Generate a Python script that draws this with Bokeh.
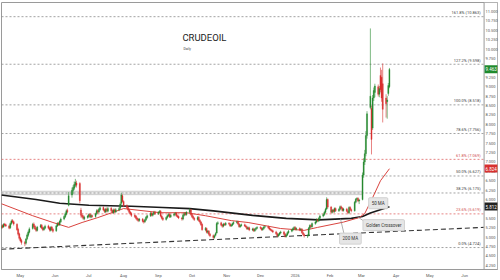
import pandas as pd
import numpy as np
from bokeh.plotting import figure
from bokeh.models import (Range1d, FixedTicker, Span, Label, NumeralTickFormatter,
                          ColumnDataSource, BoxAnnotation)
from bokeh.embed import file_html
from bokeh.resources import INLINE

# ---------------- data ----------------
opens = [
    5.24, 5.31, 5.27, 5.35, 5.33,  5.30, 5.25, 5.36, 5.44, 5.41,  5.34, 5.21, 5.09, 4.98, 4.91,
    4.86, 4.84, 4.96, 5.05, 5.13,  5.23, 5.35, 5.29, 5.23, 5.18,  5.27, 5.32, 5.25, 5.20, 5.24,
    5.30, 5.25, 5.18, 5.27, 5.21,  5.17, 5.30, 5.37, 5.33, 5.41,  5.48, 5.54, 5.61, 5.71, 5.85,
    6.12, 6.24, 6.30, 6.38, 6.44,  6.43, 5.72, 5.59, 5.55, 5.49,  5.52, 5.55, 5.61, 5.53, 5.57,
    5.55, 5.62, 5.71, 5.67, 5.73,  5.79, 5.73, 5.67, 5.75, 5.69,  5.77, 5.71, 5.65, 5.73, 5.67,
    5.72, 5.77, 5.90, 6.10, 5.95,  5.84, 5.79, 5.73, 5.67, 5.63,  5.58, 5.56, 5.51, 5.48, 5.44,
    5.48, 5.43, 5.41, 5.46, 5.52,  5.57, 5.64, 5.58, 5.62, 5.67,  5.62, 5.66, 5.69, 5.56, 5.51,
    5.47, 5.52, 5.57, 5.61, 5.54,  5.58, 5.61, 5.64, 5.57, 5.55,  5.51, 5.48, 5.58, 5.64, 5.60,
    5.66, 5.73, 5.61, 5.55, 5.50,  5.47, 5.53, 5.45, 5.40, 5.34,  5.20, 5.23, 5.13, 5.16, 5.08,
    5.04, 4.99, 5.05, 5.11, 5.36,  5.38, 5.32, 5.29, 5.35, 5.33,  5.37, 5.35, 5.30, 5.32, 5.36,
    5.39, 5.41, 5.35, 5.28, 5.31,  5.33, 5.30, 5.27, 5.22, 5.25,  5.19, 5.22, 5.17, 5.21, 5.24,
    5.26, 5.24, 5.20, 5.23, 5.27,  5.28, 5.25, 5.21, 5.19, 5.17,  5.14, 5.09, 5.03, 5.07, 5.11,
    5.14, 5.08, 5.02, 5.06, 5.12,  5.16, 5.19, 5.23, 5.26, 5.21,  5.23, 5.19, 5.21, 5.12, 5.07,
    5.03, 5.05, 5.24, 5.31, 5.28,  5.36, 5.40, 5.46, 5.43, 5.50,  5.56, 5.60, 5.66, 5.75, 6.00,
    5.80, 5.66, 5.72, 5.68, 5.76,  5.70, 5.74, 5.81, 5.77, 5.71,  5.75, 5.69, 5.65, 5.79, 5.73,
    5.70, 5.93, 6.01, 6.03, 5.96,
    6.00, 6.65, 7.00, 7.22, 7.70, 8.45, 8.42, 7.90, 8.70, 8.85, 9.00, 8.80, 9.30, 9.25, 9.08,
    8.70, 8.60, 8.82, 9.00]
closes = [
    5.30, 5.26, 5.34, 5.32, 5.30,  5.24, 5.36, 5.43, 5.40, 5.35,  5.20, 5.08, 4.97, 4.90, 4.86,
    4.83, 4.95, 5.06, 5.14, 5.22,  5.34, 5.28, 5.22, 5.18, 5.27,  5.31, 5.24, 5.20, 5.25, 5.29,
    5.24, 5.19, 5.26, 5.20, 5.16,  5.30, 5.36, 5.33, 5.42, 5.48,  5.55, 5.62, 5.70, 5.68, 6.10,
    6.25, 6.32, 6.40, 6.46, 6.38,  5.97, 5.58, 5.54, 5.50, 5.53,  5.56, 5.60, 5.54, 5.58, 5.55,
    5.62, 5.70, 5.66, 5.74, 5.78,  5.72, 5.68, 5.74, 5.70, 5.76,  5.70, 5.66, 5.72, 5.68, 5.73,
    5.76, 5.88, 6.12, 5.95, 5.84,  5.78, 5.72, 5.66, 5.62, 5.58,  5.55, 5.50, 5.47, 5.44, 5.48,
    5.42, 5.40, 5.46, 5.53, 5.57,  5.63, 5.58, 5.62, 5.66, 5.62,  5.66, 5.68, 5.56, 5.50, 5.47,
    5.52, 5.57, 5.60, 5.54, 5.58,  5.61, 5.63, 5.57, 5.54, 5.51,  5.48, 5.58, 5.63, 5.60, 5.66,
    5.73, 5.60, 5.54, 5.50, 5.47,  5.52, 5.44, 5.40, 5.33, 5.20,  5.23, 5.13, 5.16, 5.08, 5.04,
    4.99, 5.04, 5.10, 5.36, 5.38,  5.32, 5.29, 5.35, 5.33, 5.37,  5.35, 5.30, 5.32, 5.36, 5.39,
    5.41, 5.35, 5.28, 5.31, 5.33,  5.30, 5.27, 5.22, 5.25, 5.19,  5.22, 5.17, 5.21, 5.24, 5.26,
    5.24, 5.20, 5.23, 5.27, 5.28,  5.25, 5.21, 5.19, 5.17, 5.14,  5.09, 5.03, 5.07, 5.11, 5.14,
    5.08, 5.02, 5.06, 5.12, 5.16,  5.19, 5.23, 5.26, 5.21, 5.23,  5.19, 5.21, 5.12, 5.07, 5.03,
    5.04, 5.24, 5.31, 5.28, 5.36,  5.40, 5.46, 5.43, 5.50, 5.56,  5.60, 5.66, 5.74, 6.00, 5.80,
    5.66, 5.72, 5.68, 5.76, 5.70,  5.74, 5.81, 5.77, 5.71, 5.75,  5.69, 5.65, 5.79, 5.73, 5.70,
    5.93, 6.01, 6.03, 5.96, 5.99,
    6.65, 7.00, 7.22, 7.70, 8.28, 8.75, 7.60, 8.70, 8.90, 9.02, 8.80, 8.95, 8.92, 8.70, 8.40,
    8.55, 8.65, 9.03, 9.46]
highs = [
    5.33, 5.34, 5.37, 5.38, 5.36,  5.33, 5.39, 5.47, 5.48, 5.44,  5.37, 5.25, 5.12, 5.01, 4.95,
    4.90, 4.98, 5.10, 5.18, 5.26,  5.38, 5.39, 5.32, 5.26, 5.30,  5.35, 5.35, 5.28, 5.28, 5.33,
    5.33, 5.28, 5.29, 5.30, 5.24,  5.33, 5.40, 5.40, 5.45, 5.52,  5.58, 5.66, 5.74, 5.76, 6.20,
    6.32, 6.38, 6.48, 6.55, 6.50,  6.46, 5.78, 5.63, 5.59, 5.57,  5.59, 5.63, 5.64, 5.61, 5.60,
    5.65, 5.74, 5.74, 5.78, 5.82,  5.82, 5.76, 5.78, 5.79, 5.80,  5.80, 5.74, 5.76, 5.76, 5.77,
    5.80, 5.92, 6.18, 6.14, 5.98,  5.87, 5.82, 5.76, 5.70, 5.66,  5.61, 5.59, 5.54, 5.51, 5.51,
    5.51, 5.46, 5.49, 5.56, 5.60,  5.67, 5.67, 5.65, 5.70, 5.70,  5.69, 5.72, 5.72, 5.59, 5.54,
    5.55, 5.60, 5.64, 5.64, 5.61,  5.64, 5.67, 5.67, 5.60, 5.58,  5.54, 5.61, 5.66, 5.67, 5.69,
    5.77, 5.75, 5.64, 5.58, 5.53,  5.56, 5.56, 5.48, 5.43, 5.37,  5.27, 5.26, 5.19, 5.19, 5.11,
    5.07, 5.07, 5.13, 5.40, 5.42,  5.41, 5.35, 5.38, 5.38, 5.40,  5.40, 5.38, 5.35, 5.39, 5.42,
    5.44, 5.44, 5.38, 5.34, 5.36,  5.36, 5.33, 5.30, 5.28, 5.28,  5.25, 5.25, 5.24, 5.27, 5.29,
    5.29, 5.27, 5.26, 5.30, 5.31,  5.31, 5.28, 5.24, 5.22, 5.20,  5.17, 5.12, 5.10, 5.14, 5.17,
    5.17, 5.11, 5.09, 5.15, 5.19,  5.22, 5.26, 5.29, 5.29, 5.26,  5.26, 5.24, 5.24, 5.15, 5.10,
    5.07, 5.27, 5.34, 5.34, 5.39,  5.43, 5.50, 5.49, 5.53, 5.60,  5.63, 5.70, 5.78, 6.06, 6.03,
    5.83, 5.75, 5.75, 5.79, 5.79,  5.77, 5.84, 5.84, 5.80, 5.78,  5.78, 5.72, 5.82, 5.82, 5.76,
    5.96, 6.04, 6.06, 6.06, 6.02,
    6.72, 7.10, 7.32, 7.82, 8.35, 10.55, 8.50, 8.78, 8.98, 9.08, 9.06, 9.02, 9.51, 9.45, 9.62,
    8.80, 8.75, 9.10, 9.50]
lows = [
    5.21, 5.23, 5.25, 5.29, 5.27,  5.21, 5.22, 5.33, 5.37, 5.31,  5.17, 5.04, 4.93, 4.86, 4.80,
    4.76, 4.80, 4.92, 5.01, 5.10,  5.20, 5.25, 5.19, 5.14, 5.15,  5.24, 5.21, 5.16, 5.17, 5.21,
    5.21, 5.15, 5.15, 5.17, 5.12,  5.14, 5.27, 5.30, 5.30, 5.38,  5.45, 5.51, 5.58, 5.64, 5.82,
    6.05, 6.15, 6.25, 6.33, 6.32,  5.90, 5.52, 5.50, 5.46, 5.45,  5.49, 5.52, 5.51, 5.50, 5.52,
    5.52, 5.59, 5.62, 5.64, 5.70,  5.69, 5.64, 5.64, 5.66, 5.66,  5.67, 5.62, 5.62, 5.64, 5.64,
    5.69, 5.74, 5.86, 5.92, 5.80,  5.75, 5.69, 5.62, 5.58, 5.54,  5.51, 5.47, 5.43, 5.40, 5.41,
    5.39, 5.36, 5.38, 5.43, 5.49,  5.54, 5.55, 5.55, 5.59, 5.59,  5.59, 5.63, 5.53, 5.47, 5.43,
    5.44, 5.49, 5.54, 5.51, 5.51,  5.55, 5.58, 5.54, 5.51, 5.48,  5.44, 5.45, 5.55, 5.57, 5.57,
    5.63, 5.57, 5.51, 5.47, 5.43,  5.44, 5.41, 5.36, 5.30, 5.17,  5.16, 5.10, 5.09, 5.04, 5.00,
    4.95, 4.96, 5.02, 5.09, 5.33,  5.29, 5.25, 5.26, 5.30, 5.30,  5.32, 5.27, 5.27, 5.29, 5.33,
    5.36, 5.32, 5.25, 5.25, 5.28,  5.27, 5.24, 5.19, 5.19, 5.16,  5.16, 5.14, 5.14, 5.18, 5.21,
    5.21, 5.17, 5.17, 5.20, 5.24,  5.22, 5.18, 5.16, 5.14, 5.11,  5.06, 5.00, 5.00, 5.04, 5.08,
    5.05, 4.99, 4.99, 5.03, 5.09,  5.13, 5.16, 5.20, 5.18, 5.18,  5.16, 5.16, 5.09, 5.04, 4.99,
    4.98, 5.02, 5.21, 5.25, 5.25,  5.33, 5.37, 5.40, 5.40, 5.47,  5.53, 5.57, 5.63, 5.72, 5.76,
    5.63, 5.63, 5.65, 5.65, 5.67,  5.67, 5.71, 5.74, 5.68, 5.68,  5.66, 5.61, 5.62, 5.70, 5.66,
    5.68, 5.90, 5.98, 5.93, 5.88,
    5.98, 6.58, 6.92, 7.15, 7.62, 8.40, 7.20, 7.85, 8.62, 8.72, 8.74, 8.72, 8.85, 8.60, 8.05,
    8.18, 8.15, 8.76, 8.96]

ma50_dates = ["2025-04-14", "2025-05-12", "2025-05-30", "2025-06-13", "2025-06-25", "2025-07-09",
              "2025-08-01", "2025-09-03", "2025-09-26", "2025-10-13", "2025-11-05", "2025-11-20",
              "2025-12-19", "2026-01-09", "2026-01-21", "2026-02-13", "2026-02-27", "2026-03-04",
              "2026-03-11", "2026-03-18", "2026-03-26"]
ma50_vals = [5.89, 5.57, 5.39, 5.26, 5.39, 5.52, 5.76, 5.65, 5.65, 5.57, 5.44, 5.39,
             5.23, 5.18, 5.26, 5.40, 5.52, 5.63, 6.05, 6.50, 6.82]
ma200_dates = ["2025-04-14", "2025-05-15", "2025-06-05", "2025-07-01", "2025-08-08", "2025-09-05",
               "2025-09-29", "2025-10-20", "2025-11-24", "2025-12-24", "2026-01-22", "2026-02-20",
               "2026-03-02", "2026-03-09", "2026-03-26"]
ma200_vals = [6.12, 6.00, 5.90, 5.85, 5.82, 5.79, 5.76, 5.70, 5.58, 5.50, 5.46, 5.50,
              5.55, 5.64, 5.81]

fib_levels = [10.863, 9.598, 8.518, 7.756, 7.069, 6.627, 6.175, 5.619, 4.724]
fib_labels = ["161.8% (10.863)", "127.2% (9.598)", "100.0% (8.518)", "78.6% (7.756)",
              "61.8% (7.069)", "50.0% (6.627)", "38.2% (6.175)", "23.6% (5.619)", "0.0% (4.724)"]
fib_red = [False, False, False, False, True, False, False, True, False]

trend_dates = ["2025-04-14", "2026-06-18"]
trend_vals = [4.68, 5.26]

month_ticks = ["2025-05-01", "2025-06-01", "2025-07-01", "2025-08-01", "2025-09-01", "2025-10-01",
               "2025-11-01", "2025-12-01", "2026-01-01", "2026-02-01", "2026-03-01", "2026-04-01",
               "2026-05-01", "2026-06-01"]
month_labels = ["May", "Jun", "Jul", "Aug", "Sep", "Oct", "Nov", "Dec", "2026", "Feb", "Mar",
                "Apr", "May", "Jun"]

last_price = 9.463
ma50_last = 6.824
ma200_last = 5.812

# ---------------- build ----------------
def ms(d):
    return pd.Timestamp(d).value // 10**6

dates = list(pd.bdate_range("2025-04-14", "2026-02-27")) + list(pd.bdate_range("2026-03-02", "2026-03-26"))
assert len(dates) == len(opens) == len(closes) == len(highs) == len(lows)

GREEN = "#26892f"
RED = "#d8302f"
colors = [GREEN if c >= o else RED for o, c in zip(opens, closes)]
src = ColumnDataSource(dict(x=dates, o=opens, c=closes, h=highs, l=lows, col=colors,
                            top=[max(a, b) for a, b in zip(opens, closes)],
                            bot=[min(a, b) for a, b in zip(opens, closes)]))

# chart area spans px 1..486; the price scale strip 486..500 lives inside the frame
X0 = ms("2025-04-14 04:00")
X1 = ms("2026-06-17 22:00")          # value at px 486
XF = X0 + (500 - 1) / 485 * (X1 - X0)  # value at px 500 (frame right)
Y_TOP, Y_BOT = 11.24, 4.14
FONT = "Roboto"

p = figure(width=500, height=280, x_axis_type="datetime", y_axis_location="right",
           output_backend="svg", toolbar_location=None,
           x_range=Range1d(X0, XF), y_range=Range1d(Y_BOT, Y_TOP),
           min_border_left=1, min_border_right=0, min_border_top=2, min_border_bottom=10)
p.background_fill_color = "white"
p.border_fill_color = "white"
p.outline_line_color = "#9a9a9a"
p.outline_line_width = 1
p.xgrid.visible = False
p.ygrid.visible = False

def px_x(px):
    return X0 + (px - 1) / 485 * (X1 - X0)

def px_y(py):
    return Y_TOP - (py - 2) / 268 * (Y_TOP - Y_BOT)

# resistance band
p.add_layout(BoxAnnotation(bottom=6.13, top=6.22, right=ms("2026-03-02"),
                           fill_color="#d6d6d6", fill_alpha=0.55, line_color="#c4c4c4",
                           line_alpha=0.8, level="underlay"))

# fib lines and labels
for lvl, txt, red in zip(fib_levels, fib_labels, fib_red):
    col = "#e06666" if red else "#8a8a8a"
    p.add_layout(Span(location=lvl, dimension="width", line_color=col, line_width=0.8,
                      line_dash="2 2", level="underlay"))
    p.add_layout(Label(x=X1, y=lvl, x_offset=-3, y_offset=1.5, text=txt, text_align="right",
                       text_baseline="bottom", text_font_size="4px", text_font=FONT,
                       text_color="#d05050" if red else "#444444"))

# trend support line
p.line([pd.Timestamp(d) for d in trend_dates], trend_vals, line_color="#333333",
       line_width=1.1, line_dash="5 3")

# moving averages
p.line([pd.Timestamp(d) for d in ma200_dates], ma200_vals, line_color="#1a1a1a", line_width=1.6)
p.line([pd.Timestamp(d) for d in ma50_dates], ma50_vals, line_color="#d9443f", line_width=1.0)

# candles
p.segment(x0="x", y0="h", x1="x", y1="l", color="col", line_width=0.6, source=src)
p.vbar(x="x", width=86400000 * 1.0, top="top", bottom="bot", fill_color="col",
       line_color="col", line_width=0.3, source=src)

# connectors
p.segment(x0=[px_x(359), px_x(342)], y0=[px_y(217), px_y(219)],
          x1=[px_x(368), px_x(346)], y1=[px_y(223), px_y(236)],
          line_color="#8c8c8c", line_width=0.7)

# price-scale strip (white) and its border line
p.add_layout(BoxAnnotation(left=px_x(486.5), fill_color="white", fill_alpha=1.0,
                           line_color=None, level="glyph"))
p.add_layout(Span(location=px_x(486.5), dimension="height", line_color="#9a9a9a",
                  line_width=1, level="guide"))

# annotation boxes
for txt, cx, cy in [("50 MA", 380, 203.5), ("Golden Crossover", 385.5, 225.5), ("200 MA", 352, 239)]:
    p.add_layout(Label(x=px_x(cx), y=px_y(cy), text=txt, text_align="center",
                       text_baseline="middle", text_font_size="4.5px", text_font=FONT,
                       text_color="#333333", background_fill_color="#e6e6e6",
                       background_fill_alpha=1.0, border_line_color="#d0d0d0",
                       padding=3, border_radius=1))

# title
p.add_layout(Label(x=px_x(183), y=px_y(37), text="CRUDEOIL", text_baseline="middle",
                   text_font_size="9.5px", text_font=FONT, text_color="#222222"))
p.add_layout(Label(x=px_x(184), y=px_y(49), text="Daily", text_baseline="middle",
                   text_font_size="3.5px", text_font=FONT, text_color="#444444"))

# value tags on the price axis
for val, bg in [(last_price, "#1f8a2d"), (ma50_last, "#d8302f"), (ma200_last, "#222222")]:
    p.add_layout(Label(x=px_x(487), y=val, text=f"{val:.3f}", text_baseline="middle",
                       text_align="left", text_font_size="4.5px", text_font=FONT,
                       text_color="white", background_fill_color=bg, background_fill_alpha=1.0,
                       padding=(1, 2)))

# axes
p.yaxis.ticker = FixedTicker(ticks=list(np.arange(4.25, 11.26, 0.25)))
p.yaxis.formatter = NumeralTickFormatter(format="0.000")
p.yaxis.major_label_text_font_size = "4px"
p.yaxis.major_label_text_font = FONT
p.yaxis.major_label_text_color = "#555555"
p.yaxis.major_tick_out = 0
p.yaxis.major_tick_in = 0
p.yaxis.minor_tick_out = 0
p.yaxis.minor_tick_in = 0
p.yaxis.major_label_standoff = -12
p.yaxis.axis_line_color = None

tick_ms = [ms(d) for d in month_ticks]
p.xaxis.ticker = FixedTicker(ticks=tick_ms)
p.xaxis.major_label_overrides = {t: lab for t, lab in zip(tick_ms, month_labels)}
p.xaxis.major_label_text_font_size = "4px"
p.xaxis.major_label_text_font = FONT
p.xaxis.major_label_text_color = "#555555"
p.xaxis.major_tick_out = 0
p.xaxis.major_tick_in = 0
p.xaxis.minor_tick_out = 0
p.xaxis.minor_tick_in = 0
p.xaxis.major_label_standoff = 3
p.xaxis.axis_line_color = "#9a9a9a"

open("out.html", "w").write(file_html(p, INLINE))
